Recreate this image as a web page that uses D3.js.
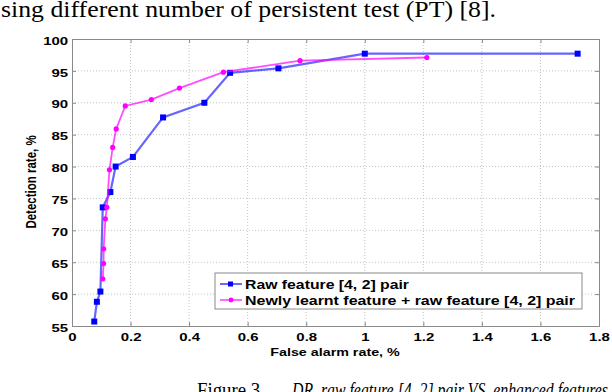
<!DOCTYPE html>
<html>
<head>
<meta charset="utf-8">
<script src="https://cdn.jsdelivr.net/npm/d3@7"></script>
<style>
  body { margin: 0; background: #fff; }
  svg { display: block; }
  .tick-label { font-family: Arial, "Liberation Sans", sans-serif; font-weight: bold; font-size: 11.5px; fill: #000; }
</style>
</head>
<body>
<div id="chart"></div>
<script>
// Data
const rawX = [0.076, 0.085, 0.097, 0.105, 0.131, 0.149, 0.208, 0.311, 0.452, 0.540, 0.705, 1.0, 1.727];
const rawY = [55.7, 58.8, 60.4, 73.6, 76.0, 80.0, 81.5, 87.7, 90.0, 94.7, 95.4, 97.7, 97.7];

const newX = [0.105, 0.108, 0.108, 0.114, 0.119, 0.128, 0.139, 0.151, 0.182, 0.271, 0.367, 0.517, 0.779, 1.212];
const newY = [62.4, 64.8, 67.1, 71.8, 73.6, 79.5, 83.0, 85.9, 89.5, 90.5, 92.3, 94.8, 96.6, 97.1];

const xTicks = [0, 0.2, 0.4, 0.6, 0.8, 1, 1.2, 1.4, 1.6, 1.8];
const yTicks = [55, 60, 65, 70, 75, 80, 85, 90, 95, 100];

const seriesNames = ['Raw feature [4, 2] pair', 'Newly learnt feature + raw feature [4, 2] pair'];

// Dimensions
const W = 612, H = 392;
const plot = { left: 72, right: 599, top: 39, bottom: 326 };
const stretch = 1.3;   // the figure is stretched sideways in the page

const svg = d3.select('#chart').append('svg')
    .attr('width', W).attr('height', H);

// Text from the surrounding page
const serif = '"Liberation Serif", "Times New Roman", serif';
svg.append('text')
    .attr('x', 1).attr('y', 17)
    .attr('textLength', 495).attr('lengthAdjust', 'spacingAndGlyphs')
    .style('font-family', serif)
    .style('font-size', '22.5px')
    .text('sing different number of persistent test (PT) [8].');

svg.append('text')
    .attr('x', 197).attr('y', 397)
    .attr('textLength', 68).attr('lengthAdjust', 'spacingAndGlyphs')
    .style('font-family', serif)
    .style('font-size', '20px')
    .text('Figure 3.');
svg.append('text')
    .attr('x', 292).attr('y', 397)
    .attr('textLength', 316).attr('lengthAdjust', 'spacingAndGlyphs')
    .style('font-family', serif)
    .style('font-size', '20px')
    .style('font-style', 'italic')
    .text('DR, raw feature [4, 2] pair VS. enhanced features');

// Scales
const x = d3.scaleLinear().domain([0, 1.8]).range([plot.left, plot.right]);
const y = d3.scaleLinear().domain([55, 100]).range([plot.bottom, plot.top]);

// Grid
const grid = svg.append('g');
xTicks.slice(1, -1).forEach(t => {
    grid.append('line')
        .attr('x1', x(t)).attr('x2', x(t))
        .attr('y1', plot.top).attr('y2', plot.bottom)
        .attr('stroke', '#c4c4c4').attr('stroke-dasharray', '1,2');
});
yTicks.slice(1, -1).forEach(t => {
    grid.append('line')
        .attr('x1', plot.left).attr('x2', plot.right)
        .attr('y1', y(t)).attr('y2', y(t))
        .attr('stroke', '#c4c4c4').attr('stroke-dasharray', '1,2');
});

// Axes (ticks inward on all four sides)
const axisColor = '#8a8a8a';
const xAxis = svg.append('g')
    .attr('transform', 'translate(0,' + plot.bottom + ')')
    .call(d3.axisBottom(x).tickValues(xTicks).tickSize(-4).tickPadding(7).tickFormat(d3.format('~g')));
const yAxis = svg.append('g')
    .attr('transform', 'translate(' + plot.left + ',0)')
    .call(d3.axisLeft(y).tickValues(yTicks).tickSize(-4).tickPadding(3));
svg.append('g')
    .attr('transform', 'translate(0,' + plot.top + ')')
    .call(d3.axisTop(x).tickValues(xTicks).tickSize(-4).tickFormat(''));
svg.append('g')
    .attr('transform', 'translate(' + plot.right + ',0)')
    .call(d3.axisRight(y).tickValues(yTicks).tickSize(-4).tickFormat(''));

svg.selectAll('.domain').attr('stroke', axisColor);
svg.selectAll('.tick line').attr('stroke', axisColor);
svg.selectAll('.tick text')
    .attr('class', 'tick-label').attr('fill', '#000')
    .attr('transform', 'scale(' + stretch + ',1)');
yAxis.selectAll('.tick text').attr('dy', '0.45em');

// Axis labels
svg.append('text')
    .attr('transform', 'translate(335,356) scale(' + stretch + ',1)')
    .attr('text-anchor', 'middle')
    .attr('class', 'tick-label')
    .style('font-size', '11px')
    .text('False alarm rate, %');

svg.append('text')
    .attr('transform', 'translate(36,182) rotate(-90) scale(1,' + stretch + ')')
    .attr('text-anchor', 'middle')
    .attr('class', 'tick-label')
    .style('font-size', '11.5px')
    .text('Detection rate, %');

// Lines
const rawData = rawX.map((v, i) => [v, rawY[i]]);
const newData = newX.map((v, i) => [v, newY[i]]);
const line = d3.line().x(d => x(d[0])).y(d => y(d[1]));

svg.append('path').datum(rawData)
    .attr('d', line).attr('fill', 'none')
    .attr('stroke', '#0000ff').attr('stroke-opacity', 0.6).attr('stroke-width', 2.2);
svg.selectAll('.raw-pt').data(rawData).join('rect')
    .attr('x', d => x(d[0]) - 3).attr('y', d => y(d[1]) - 3)
    .attr('width', 6).attr('height', 6).attr('fill', '#0000ff');

svg.append('path').datum(newData)
    .attr('d', line).attr('fill', 'none')
    .attr('stroke', '#ff00ff').attr('stroke-opacity', 0.7).attr('stroke-width', 1.8);
svg.selectAll('.new-pt').data(newData).join('circle')
    .attr('cx', d => x(d[0])).attr('cy', d => y(d[1]))
    .attr('r', 2.6).attr('fill', '#ff00ff');

// Legend
const legend = svg.append('g');
legend.append('rect')
    .attr('x', 215).attr('y', 273).attr('width', 367).attr('height', 36)
    .attr('fill', '#fff').attr('stroke', '#8a8a8a');
const legendColors = ['#0000ff', '#ff00ff'];
const legendWidths = [164, 330];
seriesNames.forEach((name, i) => {
    const ly = 284 + i * 16;
    legend.append('line')
        .attr('x1', 220).attr('x2', 242).attr('y1', ly).attr('y2', ly)
        .attr('stroke', legendColors[i]).attr('stroke-opacity', 0.65).attr('stroke-width', 1.8);
    if (i === 0) {
        legend.append('rect').attr('x', 228).attr('y', ly - 2.5).attr('width', 5).attr('height', 5).attr('fill', legendColors[i]);
    } else {
        legend.append('circle').attr('cx', 231).attr('cy', ly).attr('r', 2.4).attr('fill', legendColors[i]);
    }
    legend.append('text')
        .attr('x', 245).attr('y', ly + 4.5)
        .attr('textLength', legendWidths[i]).attr('lengthAdjust', 'spacingAndGlyphs')
        .attr('class', 'tick-label')
        .style('font-size', '12px')
        .text(name);
});
</script>
</body>
</html>
